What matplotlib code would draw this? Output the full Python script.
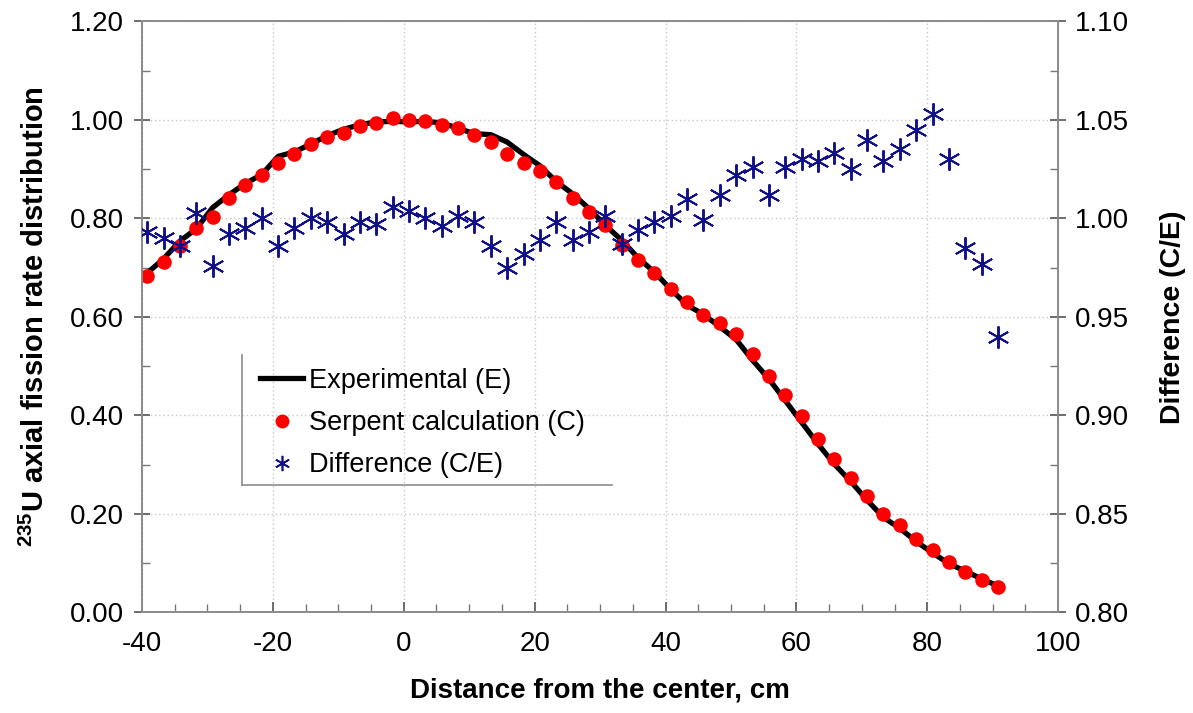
import matplotlib

matplotlib.use("Agg")
import matplotlib.pyplot as plt
from matplotlib.lines import Line2D
from matplotlib.ticker import MultipleLocator, FormatStrFormatter

plt.rcParams["font.family"] = ["Liberation Sans", "DejaVu Sans"]
plt.rcParams["mathtext.fontset"] = "custom"
plt.rcParams["mathtext.rm"] = "Liberation Sans"
plt.rcParams["mathtext.bf"] = "Liberation Sans:bold"
plt.rcParams["axes.unicode_minus"] = False

# positions of the measurement / calculation points (cm)
distance = [
    -39.2, -36.7, -34.2, -31.7, -29.2, -26.7, -24.2, -21.7, -19.2, -16.7,
    -14.2, -11.7, -9.2, -6.7, -4.2, -1.7, 0.8, 3.3, 5.8, 8.3,
    10.8, 13.3, 15.8, 18.3, 20.8, 23.3, 25.8, 28.3, 30.8, 33.3,
    35.8, 38.3, 40.8, 43.3, 45.8, 48.3, 50.8, 53.3, 55.8, 58.3,
    60.8, 63.3, 65.8, 68.3, 70.8, 73.3, 75.8, 78.3, 80.8, 83.3,
    85.8, 88.3, 90.8,
]

experimental = [
    0.689, 0.718, 0.754, 0.779, 0.822, 0.848, 0.871, 0.889, 0.926, 0.935,
    0.951, 0.968, 0.981, 0.990, 0.996, 0.997, 0.996, 0.997, 0.994, 0.983,
    0.972, 0.970, 0.955, 0.930, 0.907, 0.875, 0.850, 0.820, 0.786, 0.756,
    0.720, 0.691, 0.656, 0.624, 0.605, 0.580, 0.554, 0.512, 0.474, 0.430,
    0.386, 0.342, 0.301, 0.266, 0.228, 0.193, 0.171, 0.144, 0.121, 0.099,
    0.084, 0.068, 0.054,
]

serpent = [
    0.684, 0.711, 0.743, 0.781, 0.802, 0.841, 0.867, 0.889, 0.913, 0.930,
    0.951, 0.966, 0.973, 0.988, 0.993, 1.003, 1.000, 0.997, 0.990, 0.984,
    0.970, 0.956, 0.931, 0.913, 0.897, 0.873, 0.841, 0.814, 0.787, 0.746,
    0.716, 0.690, 0.657, 0.630, 0.604, 0.587, 0.566, 0.525, 0.480, 0.441,
    0.398, 0.352, 0.311, 0.273, 0.237, 0.199, 0.177, 0.150, 0.127, 0.102,
    0.083, 0.066, 0.051,
]

ratio_ce = [
    0.993, 0.990, 0.986, 1.003, 0.976, 0.992, 0.995, 1.000, 0.986, 0.995,
    1.000, 0.998, 0.992, 0.998, 0.997, 1.006, 1.004, 1.000, 0.996, 1.001,
    0.998, 0.986, 0.975, 0.982, 0.989, 0.998, 0.989, 0.993, 1.001, 0.987,
    0.994, 0.998, 1.001, 1.010, 0.999, 1.012, 1.022, 1.026, 1.012, 1.026,
    1.030, 1.029, 1.033, 1.025, 1.040, 1.029, 1.035, 1.045, 1.053, 1.030,
    0.985, 0.977, 0.940,
]

FRAME = "#8c8c8c"
NAVY = "#10108a"
STAR = (6, 2, 0)

fig = plt.figure(figsize=(11.93, 7.13), dpi=100)
ax = fig.add_axes([0.119, 0.141, 0.768, 0.829])
ax2 = ax.twinx()

ax.plot(distance, experimental, color="black", linewidth=3.8, solid_joinstyle="round",
        label="Experimental (E)", zorder=3)
ax.plot(distance, serpent, linestyle="none", marker="o", markersize=10.5, color="#ff0000",
        markeredgewidth=0, label="Serpent calculation (C)", zorder=4)
ax2.plot(distance, ratio_ce, linestyle="none", marker=STAR, markersize=16, color=NAVY,
         markeredgewidth=1.4, label="Difference (C/E)", zorder=5)

ax.set_xlim(-40, 100)
ax.set_ylim(0.0, 1.2)
ax2.set_ylim(0.80, 1.10)

ax.xaxis.set_major_locator(MultipleLocator(20))
ax.xaxis.set_minor_locator(MultipleLocator(5))
ax.yaxis.set_major_locator(MultipleLocator(0.2))
ax.yaxis.set_minor_locator(MultipleLocator(0.1))
ax.yaxis.set_major_formatter(FormatStrFormatter("%.2f"))
ax2.yaxis.set_major_locator(MultipleLocator(0.05))
ax2.yaxis.set_minor_locator(MultipleLocator(0.025))
ax2.yaxis.set_major_formatter(FormatStrFormatter("%.2f"))

ax.grid(True, which="major", color="#c8c8c8", linestyle=(0, (1, 2)), linewidth=1.0)
ax.set_axisbelow(True)

for a in (ax, ax2):
    for sp in a.spines.values():
        sp.set_color(FRAME)
        sp.set_linewidth(1.3)
    a.tick_params(which="minor", direction="in", length=6, width=1.0, color="#777777")
ax.tick_params(axis="y", which="major", direction="inout", length=12, width=1.2,
               color="#555555", labelsize=20, pad=7)
ax2.tick_params(axis="y", which="major", direction="inout", length=12, width=1.2,
                color="#555555", labelsize=20, pad=6)
ax.tick_params(axis="x", which="major", direction="in", length=7, width=1.2,
               color="#555555", labelsize=20, pad=13)

ax.set_xlabel("Distance from the center, cm", fontsize=20, fontweight="bold", labelpad=15)
ax.set_ylabel(r"$\mathbf{^{235}}$U axial fission rate distribution", fontsize=21,
              fontweight="bold", labelpad=14)
ax2.set_ylabel("Difference (C/E)", fontsize=20.5, fontweight="bold", labelpad=22)

handles = [
    Line2D([], [], color="black", linewidth=3.8),
    Line2D([], [], linestyle="none", marker="o", markersize=10, color="#ff0000", markeredgewidth=0),
    Line2D([], [], linestyle="none", marker=STAR, markersize=11, color=NAVY, markeredgewidth=1.2),
]
labels = ["Experimental (E)", "Serpent calculation (C)", "Difference (C/E)"]
ax2.legend(handles, labels, loc="upper left", bbox_to_anchor=(0.129, 0.414), frameon=False,
           fontsize=19.5, handlelength=1.6, handletextpad=0.2, labelspacing=0.6,
           borderaxespad=0.0, borderpad=0.0)

# legend border: only the left and bottom edges are drawn in the original
ax2.add_line(Line2D([0.109, 0.109], [0.216, 0.436], transform=ax2.transAxes, color=FRAME,
                    linewidth=1.2, clip_on=False))
ax2.add_line(Line2D([0.109, 0.513], [0.216, 0.216], transform=ax2.transAxes, color=FRAME,
                    linewidth=1.2, clip_on=False))

fig.savefig("out.png", dpi=100)
